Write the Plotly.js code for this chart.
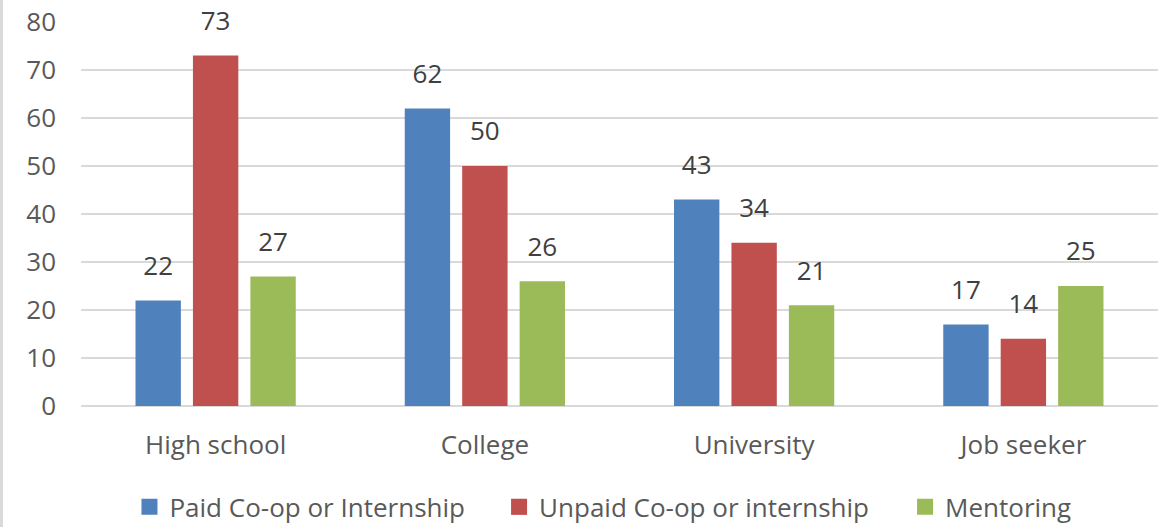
<!DOCTYPE html>
<html>
<head>
<meta charset="utf-8">
<script src="https://cdn.plot.ly/plotly-3.0.1.min.js"></script>
<style>
html,body{margin:0;padding:0;background:#fff;}
#chart{width:1155px;height:527px;border-left:3px solid #d9d9d9;}
</style>
</head>
<body>
<div id="chart"></div>
<script>
const categories = ["High school", "College", "University", "Job seeker"];
const paid = [22, 62, 43, 17];
const unpaid = [73, 50, 34, 14];
const mentoring = [27, 26, 21, 25];
const seriesNames = ["Paid Co-op or Internship", "Unpaid Co-op or internship", "Mentoring"];
const colors = ["#4f81bd", "#c0504d", "#9bbb59"];

const font = "Open Sans";
const series = [paid, unpaid, mentoring];
const groups = ["a", "b", "c"];
const legendIds = ["legend", "legend2", "legend3"];
const legendX = [0.1095, 0.4295, 0.781];

const data = [];
series.forEach((vals, i) => {
  data.push({
    type: "bar",
    x: categories,
    y: vals,
    name: seriesNames[i],
    offsetgroup: groups[i],
    showlegend: false,
    marker: {color: colors[i], line: {width: 0}},
    hoverinfo: "x+y+name"
  });
});
series.forEach((vals, i) => {
  data.push({
    type: "scatter",
    mode: "markers+text",
    x: categories,
    y: vals,
    offsetgroup: groups[i],
    showlegend: false,
    text: vals.map(String),
    textposition: "top center",
    marker: {size: 29, opacity: 0, color: colors[i]},
    cliponaxis: false,
    textfont: {family: font, size: 26, color: "#404040"},
    hoverinfo: "skip"
  });
});
// legend entries (square swatches), one legend box per series
seriesNames.forEach((nm, i) => {
  data.push({
    type: "scatter",
    mode: "markers",
    x: [null], y: [null],
    name: nm,
    legend: legendIds[i],
    marker: {symbol: "square", size: 16, color: colors[i]},
    hoverinfo: "skip"
  });
});

function legendCfg(x) {
  return {
    orientation: "h", xref: "container", x: x, xanchor: "left",
    yref: "container", y: 0.038, yanchor: "middle",
    font: {family: font, size: 26, color: "#595959"},
    bgcolor: "rgba(0,0,0,0)", borderwidth: 0,
    itemwidth: 30
  };
}

const layout = {
  width: 1155, height: 527,
  margin: {l: 78, r: 0, t: 22, b: 121},
  paper_bgcolor: "#fff", plot_bgcolor: "#fff",
  barmode: "group",
  scattermode: "group",
  bargap: 0.36,
  bargroupgap: 0.21,
  font: {family: font, size: 26, color: "#595959"},
  xaxis: {
    showgrid: false, zeroline: false, showline: false,
    ticks: "", ticklabelstandoff: 21,
    tickfont: {family: font, size: 26, color: "#595959"}
  },
  yaxis: {
    range: [0, 80], dtick: 10, tick0: 0,
    showgrid: true, gridcolor: "#d9d9d9", gridwidth: 2,
    zeroline: true, zerolinecolor: "#d9d9d9", zerolinewidth: 2,
    showline: false, ticks: "", ticklabelstandoff: 24,
    tickfont: {family: font, size: 26, color: "#595959"}
  },
  legend: legendCfg(legendX[0]),
  legend2: legendCfg(legendX[1]),
  legend3: legendCfg(legendX[2]),
  showlegend: true
};

Plotly.newPlot("chart", data, layout, {displayModeBar: false, staticPlot: true});
</script>
</body>
</html>
